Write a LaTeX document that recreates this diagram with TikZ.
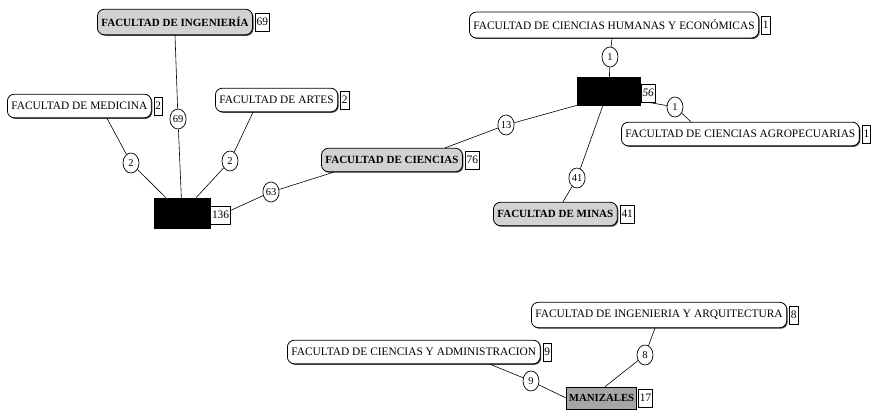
\documentclass[tikz,border=0pt]{standalone}
\usepackage{fontspec}
\setmainfont{Liberation Serif}
\usetikzlibrary{shapes.geometric,shadows}
\tikzset{
  fac/.style={draw, rounded corners=7pt, fill=white, line width=0.8pt, anchor=west,
    inner xsep=4pt, inner ysep=8pt, font=\fontsize{11.4}{12}\selectfont,
    drop shadow={shadow xshift=1pt, shadow yshift=-1pt, fill=black, opacity=0.75}},
  facg/.style={fac, fill=gray!35, font=\fontsize{11}{12}\selectfont\bfseries},
  hub/.style={draw, fill=black, inner sep=0pt},
  cnt/.style={draw, fill=white, line width=0.6pt, inner sep=1.5pt, anchor=west,
    minimum height=18pt, font=\fontsize{11.4}{12}\selectfont},
  lbl/.style={ellipse, draw, fill=white, line width=0.7pt, inner sep=0.5pt,
    minimum width=16pt, minimum height=20pt, font=\fontsize{10.5}{12}\selectfont},
  edge/.style={draw, line width=0.6pt}
}
\begin{document}
\begin{tikzpicture}[x=1pt,y=-1pt]
\useasboundingbox (0,0) rectangle (872,410);

% first campus: hub with four faculties
\node[facg] (ing) at (97,22) {FACULTAD DE INGENIERÍA};
\node[cnt] (c69) at ([xshift=2pt]ing.east) {69};
\node[fac] (med) at (7,106) {FACULTAD DE MEDICINA};
\node[cnt] (c2m) at ([xshift=2pt]med.east) {2};
\node[fac] (art) at (215,100) {FACULTAD DE ARTES};
\node[cnt] (c2a) at ([xshift=2pt]art.east) {2};
\node[hub, minimum width=56pt, minimum height=30pt] (bog) at (182,213) {};
\node[cnt] (c136) at ([xshift=0pt,yshift=-2pt]bog.east) {136};
\node[facg] (cien) at (321,160) {FACULTAD DE CIENCIAS};
\node[cnt] (c76) at ([xshift=2pt]cien.east) {76};

% second campus: hub with three faculties
\node[hub, minimum width=63pt, minimum height=28pt] (med2) at (609,91) {};
\node[cnt] (c56) at ([yshift=-2pt]med2.east) {\itshape 56};
\node[fac] (hum) at (469,25) {FACULTAD DE CIENCIAS HUMANAS Y ECONÓMICAS};
\node[cnt] (c1h) at ([xshift=2pt]hum.east) {1};
\node[fac] (agro) at (621,134) {FACULTAD DE CIENCIAS AGROPECUARIAS};
\node[cnt] (c1a) at ([xshift=2pt]agro.east) {1};
\node[facg] (min) at (493,214) {FACULTAD DE MINAS};
\node[cnt] (c41) at ([xshift=2pt]min.east) {41};

% Manizales campus
\node[fac] (iar) at (531,315) {FACULTAD DE INGENIERIA Y ARQUITECTURA};
\node[cnt] (c8) at ([xshift=2pt]iar.east) {8};
\node[fac] (adm) at (287,352) {FACULTAD DE CIENCIAS Y ADMINISTRACION};
\node[cnt] (c9) at ([xshift=2pt]adm.east) {9};
\node[draw, fill=gray!70, line width=0.6pt, anchor=west, inner xsep=2.5pt,
  minimum height=22pt, font=\fontsize{10.8}{12}\selectfont\bfseries] (man) at (566,398) {MANIZALES};
\node[cnt] (c17) at ([xshift=1pt]man.east) {17};

% edge weights
\node[lbl] (l69) at (178,119) {69};
\node[lbl] (l2m) at (131,163) {2};
\node[lbl] (l2a) at (230,161) {2};
\node[lbl] (l63) at (271,192) {63};
\node[lbl] (l13) at (506,125) {13};
\node[lbl] (l1h) at (610,57) {1};
\node[lbl] (l1a) at (675,107) {1};
\node[lbl] (l41) at (577,178) {41};
\node[lbl] (l8) at (645,355) {8};
\node[lbl] (l9) at (531,381) {9};

% connectors
\path[edge] ([xshift=78pt]ing.south west) -- (l69) -- (bog);
\path[edge] ([xshift=100pt]med.south west) -- (l2m) -- ([xshift=-16pt]bog.north);
\path[edge] ([xshift=38pt]art.south west) -- (l2a) -- ([xshift=14pt]bog.north);
\path[edge] (c136) -- (l63) -- ([xshift=13pt]cien.south west);
\path[edge] ([xshift=124pt]cien.north west) -- (l13) -- (med2.south west);
\path[edge] ([xshift=143pt]hum.south west) -- (l1h) -- (med2);
\path[edge] (c56.south) -- (l1a) -- ([xshift=70pt]agro.north west);
\path[edge] ([xshift=-6pt]med2.south) -- (l41) -- ([xshift=70pt]min.north west);
\path[edge] ([xshift=124pt]iar.south west) -- (l8) -- ([xshift=39pt]man.north west);
\path[edge] ([xshift=203pt]adm.south west) -- (l9) -- (man.west);
\end{tikzpicture}
\end{document}
